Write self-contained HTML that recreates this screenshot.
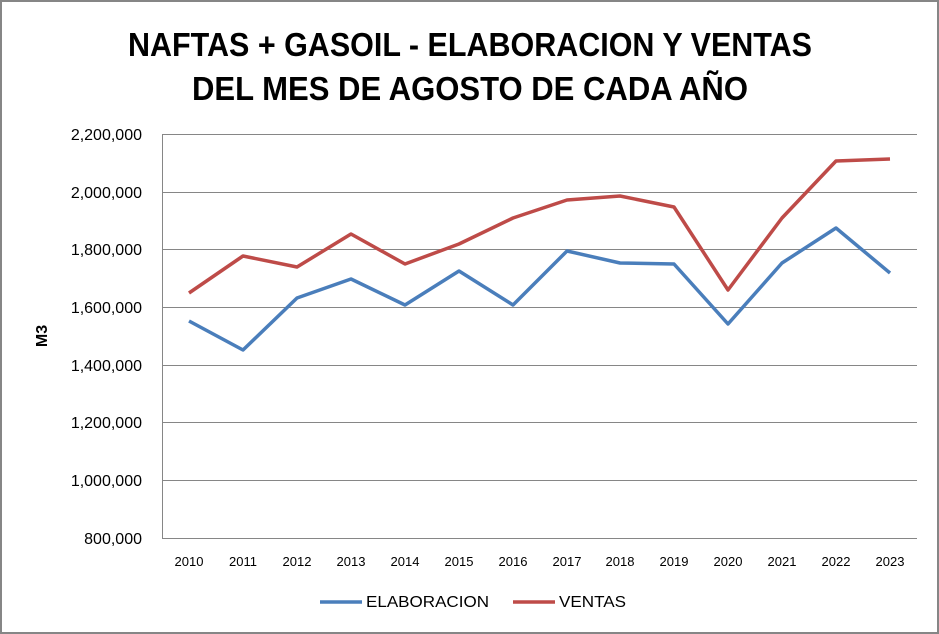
<!DOCTYPE html>
<html><head><style>
body{margin:0;background:#fff}
svg{display:block}
text{font-family:"Liberation Sans",sans-serif}
</style></head><body>
<svg width="939" height="634" viewBox="0 0 939 634">
<rect x="1" y="1" width="937" height="632" fill="#fff" stroke="#868686" stroke-width="2"/>
<text x="128" y="56" font-size="33" font-weight="bold" fill="#000" textLength="684" lengthAdjust="spacingAndGlyphs">NAFTAS + GASOIL - ELABORACION Y VENTAS</text>
<text x="192" y="100" font-size="33" font-weight="bold" fill="#000" textLength="556" lengthAdjust="spacingAndGlyphs">DEL MES DE AGOSTO DE CADA AÑO</text>
<g stroke="#868686" stroke-width="1">
<line x1="162" y1="134.5" x2="917" y2="134.5"/>
<line x1="162" y1="192.5" x2="917" y2="192.5"/>
<line x1="162" y1="249.5" x2="917" y2="249.5"/>
<line x1="162" y1="307.5" x2="917" y2="307.5"/>
<line x1="162" y1="365.5" x2="917" y2="365.5"/>
<line x1="162" y1="422.5" x2="917" y2="422.5"/>
<line x1="162" y1="480.5" x2="917" y2="480.5"/>
<line x1="162" y1="538.5" x2="917" y2="538.5"/>
<line x1="162.5" y1="134" x2="162.5" y2="538"/>
</g>
<g font-size="16" text-anchor="end" fill="#000">
<text x="142" y="140">2,200,000</text>
<text x="142" y="198">2,000,000</text>
<text x="142" y="255">1,800,000</text>
<text x="142" y="313">1,600,000</text>
<text x="142" y="371">1,400,000</text>
<text x="142" y="428">1,200,000</text>
<text x="142" y="486">1,000,000</text>
<text x="142" y="544">800,000</text>
</g>
<text transform="translate(47,336) rotate(-90)" text-anchor="middle" font-size="16" font-weight="bold">M3</text>
<g font-size="13" text-anchor="middle">
<text x="189" y="566">2010</text><text x="243" y="566">2011</text><text x="297" y="566">2012</text><text x="351" y="566">2013</text><text x="405" y="566">2014</text><text x="459" y="566">2015</text><text x="513" y="566">2016</text><text x="567" y="566">2017</text><text x="620" y="566">2018</text><text x="674" y="566">2019</text><text x="728" y="566">2020</text><text x="782" y="566">2021</text><text x="836" y="566">2022</text><text x="890" y="566">2023</text>
</g>
<polyline fill="none" stroke="#4a7ebb" stroke-width="3.5" stroke-linejoin="round" points="189,321 243,350 297,298 351,279 405,305 459,271 513,305 567,251 620,263 674,264 728,324 782,263 836,228 890,273"/>
<polyline fill="none" stroke="#be4b48" stroke-width="3.5" stroke-linejoin="round" points="189,293 243,256 297,267 351,234 405,264 459,244 513,218 567,200 620,196 674,207 728,290 782,218 836,161 890,159"/>
<line x1="320" y1="602" x2="362" y2="602" stroke="#4a7ebb" stroke-width="3.5"/>
<text x="366" y="607" font-size="16" textLength="123" lengthAdjust="spacingAndGlyphs">ELABORACION</text>
<line x1="513" y1="602" x2="555" y2="602" stroke="#be4b48" stroke-width="3.5"/>
<text x="559" y="607" font-size="16" textLength="67" lengthAdjust="spacingAndGlyphs">VENTAS</text>
</svg>
</body></html>
